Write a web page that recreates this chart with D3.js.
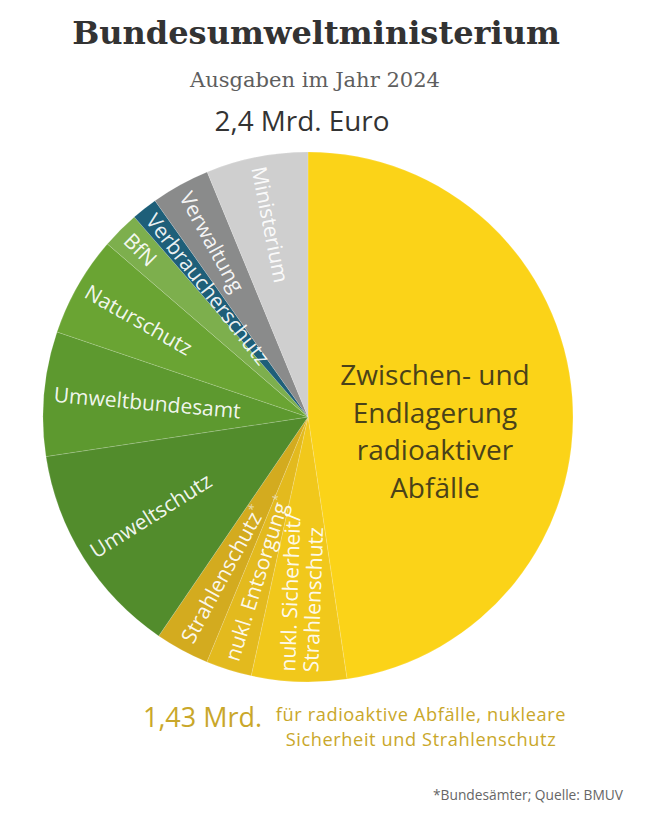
<!DOCTYPE html>
<html>
<head>
<meta charset="utf-8">
<script src="https://cdn.jsdelivr.net/npm/d3@7"></script>
<style>
  html, body { margin: 0; padding: 0; background: #fff; }
  svg { display: block; }
</style>
</head>
<body>
<svg id="chart" width="652" height="829"></svg>
<script>
// ---- Data (Mio. Euro) ----
const categories = [
  "Zwischen- und Endlagerung radioaktiver Abfälle",
  "nukl. Sicherheit/\nStrahlenschutz",
  "nukl. Entsorgung*",
  "Strahlenschutz*",
  "Umweltschutz",
  "Umweltbundesamt",
  "Naturschutz",
  "BfN",
  "Verbraucherschutz",
  "Verwaltung",
  "Ministerium"
];
const values = [1143, 139, 67, 79, 314, 182, 147, 55, 38, 86, 149];
const colors = ["#FBD318", "#F1C81B", "#E3BA1E", "#D3AB1F", "#528C2C", "#5D992F",
                "#6AA433", "#7DAF4D", "#1E5F79", "#8A8B8B", "#CFCFCF"];
const bigLabelLines = ["Zwischen- und", "Endlagerung", "radioaktiver", "Abfälle"];
const title = "Bundesumweltministerium";
const subtitle = "Ausgaben im Jahr 2024";
const totalText = "2,4 Mrd. Euro";
const subTotalValue = "1,43 Mrd.";
const subTotalLines = ["für radioaktive Abfälle, nukleare", "Sicherheit und Strahlenschutz"];
const footnote = "*Bundesämter; Quelle: BMUV";

// ---- Layout ----
const svg = d3.select("#chart");
const cx = 308, cy = 417, R = 265;
const sans = "'Open Sans', 'Noto Sans', sans-serif";
const serif = "'DejaVu Serif', serif";

function fit(sel, width) {
  const fs = parseFloat(sel.attr("font-size"));
  const w = sel.node().getComputedTextLength();
  sel.attr("font-size", (fs * width / w).toFixed(2));
  return sel;
}

// Title block
fit(svg.append("text").attr("x", 316).attr("y", 44).attr("text-anchor", "middle")
  .attr("font-family", serif).attr("font-weight", "bold").attr("font-size", 34)
  .attr("fill", "#333").text(title), 488);
fit(svg.append("text").attr("x", 315).attr("y", 87).attr("text-anchor", "middle")
  .attr("font-family", serif).attr("font-size", 20)
  .attr("fill", "#5e5e5e").text(subtitle), 250);
fit(svg.append("text").attr("x", 302).attr("y", 131).attr("text-anchor", "middle")
  .attr("font-family", sans).attr("font-size", 26)
  .attr("fill", "#333").text(totalText), 175);

// Pie
const data = categories.map((c, i) => ({ name: c, value: values[i], color: colors[i] }));
const pie = d3.pie().sort(null).value(d => d.value).startAngle(0).endAngle(2 * Math.PI);
const arc = d3.arc().innerRadius(0).outerRadius(R);
const arcs = pie(data);

const g = svg.append("g").attr("transform", `translate(${cx},${cy})`);
g.selectAll("path.slice").data(arcs).join("path")
  .attr("class", "slice")
  .attr("d", arc)
  .attr("fill", d => d.data.color)
  .attr("stroke", "#ffffff")
  .attr("stroke-opacity", 0.15)
  .attr("stroke-width", 1);

// Radial slice labels (all but the first, large slice)
const rl = 255;
arcs.slice(1).forEach(a => {
  const mid = (a.startAngle + a.endAngle) / 2;
  const deg = mid * 180 / Math.PI;
  const rot = deg - 270;
  const x = rl * Math.sin(mid), y = -rl * Math.cos(mid);
  const lines = a.data.name.split("\n");
  const t = g.append("text")
    .attr("transform", `translate(${x},${y}) rotate(${rot})`)
    .attr("font-family", sans).attr("font-size", 21)
    .attr("fill", "#ffffff").attr("fill-opacity", 0.93)
    .attr("text-anchor", "start");
  lines.forEach((ln, i) => {
    const dy = i === 0 ? (0.35 - (lines.length - 1) * 0.55) + "em" : "1.1em";
    const ts = t.append("tspan").attr("x", 0).attr("dy", dy);
    if (ln.endsWith("*")) {
      ts.text(ln.slice(0, -1));
      ts.append("tspan").attr("baseline-shift", "super").attr("font-size", "0.6em")
        .attr("fill", "#EADFB8").text("*");
    } else {
      ts.text(ln);
    }
  });
});

// Big label in the main slice
const big = g.append("text")
  .attr("font-family", sans).attr("font-size", 28)
  .attr("fill", "#4A4219").attr("text-anchor", "middle");
bigLabelLines.forEach((ln, i) => {
  big.append("tspan").attr("x", 127).attr("y", -32 + i * 37.7).text(ln);
});

// Bottom annotation
fit(svg.append("text").attr("x", 143).attr("y", 727)
  .attr("font-family", sans).attr("font-size", 26)
  .attr("fill", "#C9A72A").text(subTotalValue), 119);
subTotalLines.forEach((ln, i) => {
  svg.append("text").attr("text-anchor", "middle")
    .attr("x", 421).attr("y", 721 + i * 25)
    .attr("font-family", sans).attr("font-size", 18.2)
    .attr("letter-spacing", 0.6)
    .attr("fill", "#C9A72A").text(ln);
});

// Footnote
fit(svg.append("text").attr("x", 623).attr("y", 800).attr("text-anchor", "end")
  .attr("font-family", sans).attr("font-size", 14)
  .attr("fill", "#666").text(footnote), 190);
</script>
</body>
</html>
